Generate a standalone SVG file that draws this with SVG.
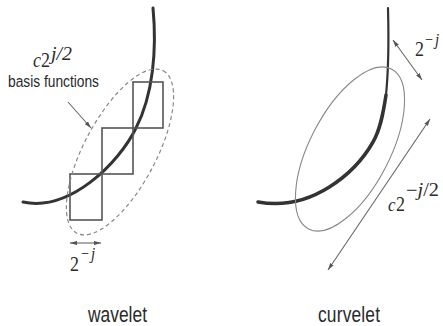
<svg xmlns="http://www.w3.org/2000/svg" width="443" height="326" viewBox="0 0 443 326">
<style>
.curve{fill:none;stroke:#333;stroke-linecap:round}
.sq{fill:none;stroke:#555;stroke-width:1.6}
.dash{fill:none;stroke:#888;stroke-width:1.2;stroke-dasharray:4 3}
.ell{fill:none;stroke:#888;stroke-width:1.1}
.arr{stroke:#666;stroke-width:1.1;fill:none}
.sans{font-family:"Liberation Sans",Arial,sans-serif;fill:#2a2a2a}
.math{font-family:"Liberation Serif","Times New Roman",serif;fill:#2a2a2a}
.it{font-style:italic}
</style>
<defs>
<marker id="ah" viewBox="0 0 10 6" refX="10" refY="3" markerWidth="7" markerHeight="4.2" markerUnits="userSpaceOnUse" orient="auto-start-reverse"><path d="M0,0 L10,3 L0,6 z" fill="#555"/></marker>
</defs>

<g id="wavelet-curve"><path class="curve" stroke-width="3" d="M153,8 C157,50 153,95 136,128 C119,163 70,212 23,202"/></g>
<g id="wavelet-squares">
<rect class="sq" x="70" y="174" width="32" height="46"/>
<rect class="sq" x="102" y="128" width="31" height="46"/>
<rect class="sq" x="133" y="82" width="30" height="46"/>
</g>
<g id="wavelet-ellipse"><ellipse class="dash" cx="0" cy="0" rx="92" ry="36" transform="translate(120,152) rotate(-62)"/></g>

<g id="curvelet-curve">
<path class="curve" stroke-width="2.2" d="M388,8 C389,45 388,75 386,95"/>
<path class="curve" stroke-width="3.5" d="M386,95 C383,115 380,130 373,142 C356,172 312,212 258,202"/>
</g>
<g id="curvelet-ellipse"><ellipse class="ell" cx="0" cy="0" rx="90" ry="40" transform="translate(350,149) rotate(-62.6)"/></g>

<g id="connectors">
<line class="arr" x1="68" y1="102" x2="91" y2="128" marker-end="url(#ah)"/>
<line class="arr" x1="70" y1="243" x2="101" y2="243" marker-start="url(#ah)" marker-end="url(#ah)"/>
<line class="arr" x1="393" y1="40" x2="422" y2="80" marker-start="url(#ah)" marker-end="url(#ah)"/>
<line class="arr" x1="430" y1="119" x2="328" y2="270" marker-start="url(#ah)" marker-end="url(#ah)"/>
</g>

<g id="label-basis">
<text class="math it" font-size="18" transform="translate(33,67) scale(1,1.15)">c</text>
<text class="math" font-size="18" transform="translate(41,67) scale(1,1.15)">2</text>
<text class="math it" font-size="15" transform="translate(51,60) scale(1,1.2)" textLength="21" lengthAdjust="spacingAndGlyphs">j/2</text>
<text class="sans" font-size="13.8" transform="translate(8,87) scale(1,1.18)" textLength="91">basis functions</text>
</g>
<g id="label-wavelet-width">
<text class="math" font-size="18" transform="translate(70,271) scale(1,1.15)">2</text>
<text class="math" font-size="14" transform="translate(81,259) scale(1,1.15)">−</text>
<text class="math it" font-size="15" transform="translate(91,259) scale(1,1.15)">j</text>
</g>
<g id="label-curvelet-width">
<text class="math" font-size="18" transform="translate(415,56) scale(1,1.15)">2</text>
<text class="math" font-size="14" transform="translate(425,45) scale(1,1.15)">−</text>
<text class="math it" font-size="15" transform="translate(435,45) scale(1,1.15)">j</text>
</g>
<g id="label-curvelet-length">
<text class="math it" font-size="17" transform="translate(388,211) scale(1,1.15)">c</text>
<text class="math" font-size="18" transform="translate(396,211) scale(1,1.15)">2</text>
<text class="math" font-size="15" transform="translate(406,196) scale(1,1.2)" textLength="33" lengthAdjust="spacingAndGlyphs">−<tspan class="it">j</tspan>/2</text>
</g>
<g id="title-wavelet"><text class="sans" font-size="17.4" transform="translate(88,322) scale(1,1.3)" textLength="59">wavelet</text></g>
<g id="title-curvelet"><text class="sans" font-size="17.4" transform="translate(318,322) scale(1,1.3)" textLength="62">curvelet</text></g>
</svg>
